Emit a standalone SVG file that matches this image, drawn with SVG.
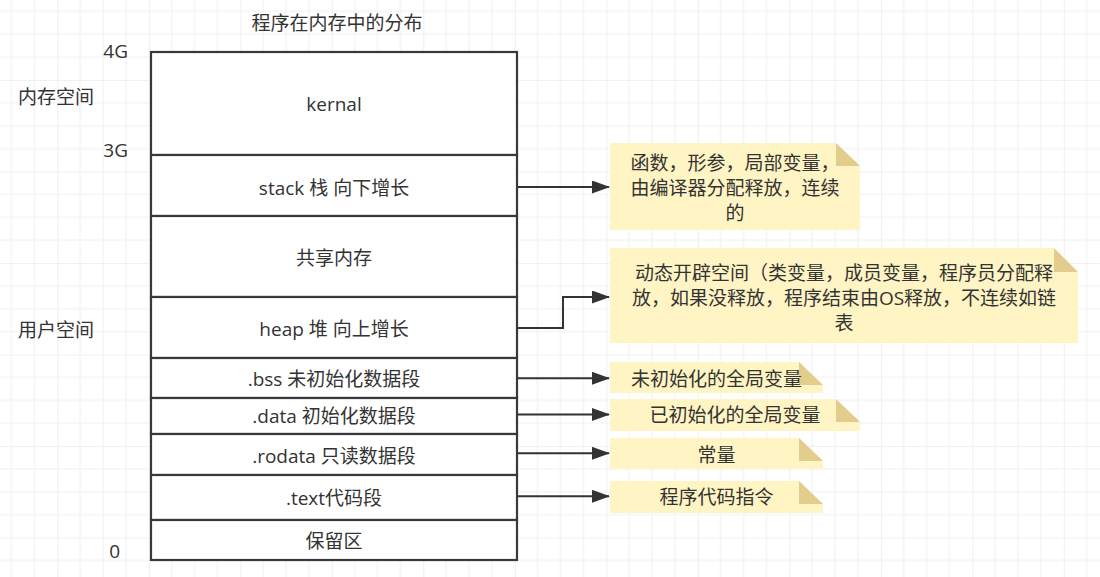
<svg xmlns="http://www.w3.org/2000/svg" width="1100" height="577" viewBox="0 0 1100 577">
<defs>
<pattern id="grid" x="-34.2" y="-11.5" width="91.5" height="91.5" patternUnits="userSpaceOnUse">
<path d="M22.875 0V91.5M45.75 0V91.5M68.625 0V91.5M0 22.875H91.5M0 45.75H91.5M0 68.625H91.5" stroke="#f0f0f0" stroke-width="1" fill="none"/>
<path d="M0 0V91.5M0 0H91.5" stroke="#e4e4e4" stroke-width="1.2" fill="none"/>
</pattern>
<marker id="arr" viewBox="0 0 18 13" refX="17" refY="6.5" markerWidth="18" markerHeight="13" markerUnits="userSpaceOnUse" orient="auto">
<path d="M0 0L18 6.5L0 13Z" fill="#333333"/>
</marker>
<style>
text{font-family:"Open Sans","Noto Sans CJK SC",sans-serif;font-size:19px;fill:#333333;dominant-baseline:central}
.c{text-anchor:middle}
.r{text-anchor:end}
.row{fill:#ffffff;stroke:#36393d;stroke-width:2.2}
.conn{stroke:#333333;stroke-width:2;fill:none;marker-end:url(#arr)}
.note{fill:#fff4c3}
.fold{fill:#e2cd8d}
</style>
</defs>
<rect width="1100" height="577" fill="#ffffff"/>
<rect width="1100" height="577" fill="url(#grid)"/>

<g id="labels">
<text class="c" x="337" y="23">程序在内存中的分布</text>
<text class="r" x="128" y="51">4G</text>
<text x="18" y="97">内存空间</text>
<text class="r" x="128" y="150">3G</text>
<text x="18" y="330">用户空间</text>
<text class="r" x="120" y="551">0</text>
</g>

<g id="kernal"><rect class="row" x="151" y="52" width="366" height="103"/><text class="c" x="334" y="104">kernal</text></g>
<g id="stack"><rect class="row" x="151" y="155" width="366" height="61"/><text class="c" x="334" y="188">stack 栈 向下增长</text></g>
<g id="shared"><rect class="row" x="151" y="216" width="366" height="81"/><text class="c" x="334" y="258">共享内存</text></g>
<g id="heap"><rect class="row" x="151" y="297" width="366" height="61"/><text class="c" x="334" y="329">heap 堆 向上增长</text></g>
<g id="bss"><rect class="row" x="151" y="358" width="366" height="40"/><text class="c" x="334" y="379">.bss 未初始化数据段</text></g>
<g id="data"><rect class="row" x="151" y="398" width="366" height="36"/><text class="c" x="334" y="416">.data 初始化数据段</text></g>
<g id="rodata"><rect class="row" x="151" y="434" width="366" height="41"/><text class="c" x="334" y="456">.rodata 只读数据段</text></g>
<g id="textseg"><rect class="row" x="151" y="475" width="366" height="45"/><text class="c" x="334" y="498">.text代码段</text></g>
<g id="reserved"><rect class="row" x="151" y="520" width="366" height="40"/><text class="c" x="334" y="541">保留区</text></g>

<g id="connectors">
<path class="conn" d="M518 187H609"/>
<path class="conn" d="M518 328H563V297H609"/>
<path class="conn" d="M518 378.3H609"/>
<path class="conn" d="M518 414.5H609"/>
<path class="conn" d="M518 453.3H609"/>
<path class="conn" d="M518 496.3H609"/>
</g>

<g id="note-stack">
<path class="note" d="M610 143H836L860 166V230H610Z"/>
<path class="fold" d="M836 143V166H860Z"/>
<text class="c" x="735" y="163">函数，形参，局部变量，</text>
<text class="c" x="735" y="188">由编译器分配释放，连续</text>
<text class="c" x="735" y="213">的</text>
</g>
<g id="note-heap">
<path class="note" d="M610 248H1054L1078 272V343H610Z"/>
<path class="fold" d="M1054 248V272H1078Z"/>
<text class="c" x="844" y="273">动态开辟空间（类变量，成员变量，程序员分配释</text>
<text class="c" x="844" y="298">放，如果没释放，程序结束由OS释放，不连续如链</text>
<text class="c" x="844" y="323">表</text>
</g>
<g id="note-bss">
<path class="note" d="M610 362H799L823 385V393H610Z"/>
<path class="fold" d="M799 362V385H823Z"/>
<text class="c" x="716.5" y="379">未初始化的全局变量</text>
</g>
<g id="note-data">
<path class="note" d="M610 399H836L860 422V431H610Z"/>
<path class="fold" d="M836 399V422H860Z"/>
<text class="c" x="735" y="415">已初始化的全局变量</text>
</g>
<g id="note-rodata">
<path class="note" d="M610 438H799L823 461V469H610Z"/>
<path class="fold" d="M799 438V461H823Z"/>
<text class="c" x="716.5" y="455">常量</text>
</g>
<g id="note-text">
<path class="note" d="M610 481H799L823 504V513H610Z"/>
<path class="fold" d="M799 481V504H823Z"/>
<text class="c" x="716.5" y="497">程序代码指令</text>
</g>
</svg>
